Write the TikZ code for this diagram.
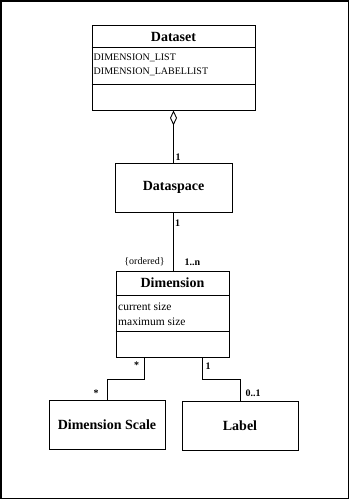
\documentclass[tikz,border=0pt]{standalone}
\usepackage{fontspec}
\setmainfont{Liberation Serif}
\usepackage{tikz}
\usetikzlibrary{arrows.meta,positioning,calc}

\begin{document}
\begin{tikzpicture}[x=1pt, y=1pt, every node/.style={inner sep=0pt}, box/.style={draw, line width=0.9pt, minimum width=116pt, minimum height=49pt}, title/.style={font=\fontsize{14}{16}\selectfont\bfseries}, attr/.style={font=\fontsize{11.5}{13}\selectfont, anchor=west}, sep/.style={line width=1.8pt}, link/.style={line width=0.9pt}, aggr/.style={{Diamond[open, length=15pt, width=7pt]}-, line width=0.9pt}, mult/.style={font=\fontsize{10}{12}\selectfont\bfseries}]
\useasboundingbox (0,0) rectangle (350,500);
\draw[line width=1.2pt] (1,1.5) rectangle (348.5,499);
% classes
\node[box, minimum width=163pt, minimum height=85pt] (dataset) at (173.5,432.5) {};
\node[title] (datasettitle) at (173.5,463) {Dataset};
\node[attr, font=\fontsize{10}{12}\selectfont] (dimlist) at (93.5,442) {DIMENSION\_LIST};
\node[attr, font=\fontsize{10}{12}\selectfont] (labellist) at (93.5,428) {DIMENSION\_LABELLIST};
\draw[sep] ($(dataset.north west)+(0,-23)$) -- ($(dataset.north east)+(0,-23)$);
\draw[sep] ($(dataset.north west)+(0,-60)$) -- ($(dataset.north east)+(0,-60)$);
\node[box, title, minimum width=117pt] (dataspace) at (173.5,312.5) {Dataspace};
\node[box, minimum width=113pt, minimum height=86pt] (dimension) at (172.5,186) {};
\node[title] (dimensiontitle) at (172.5,217) {Dimension};
\node[attr] (cursize) at (118,193) {current size};
\node[attr] (maxsize) at (118,178) {maximum size};
\draw[sep] ($(dimension.north west)+(0,-25)$) -- ($(dimension.north east)+(0,-25)$);
\draw[sep] ($(dimension.north west)+(0,-61)$) -- ($(dimension.north east)+(0,-61)$);
\node[box, title] (scale) at (107,75) {Dimension Scale};
\node[box, title] (label) at (240,74.5) {Label};
% associations
\draw[aggr] (dataset.south) -- (dataspace.north);
\draw[link] (dataspace.south) -- (dataspace.south |- dimension.north);
\draw[link] ($(dimension.south)+(-28.5,0)$) -- ++(0,-22) -| (scale.north);
\draw[link] ($(dimension.south)+(29.5,0)$) -- ++(0,-22) -| (label.north);
% multiplicities
\node[mult] (m1) at (178,343) {1};
\node[mult] (m2) at (177.5,277) {1};
\node[font=\fontsize{10}{12}\selectfont] (ordered) at (144.5,238) {\{ordered\}};
\node[mult] (m3) at (192.5,238) {1..n};
\node[mult] (m4) at (136.5,135) {*};
\node[mult] (m5) at (208,134) {1};
\node[mult] (m6) at (96,107) {*};
\node[mult] (m7) at (253,107) {0..1};
\end{tikzpicture}
\end{document}
